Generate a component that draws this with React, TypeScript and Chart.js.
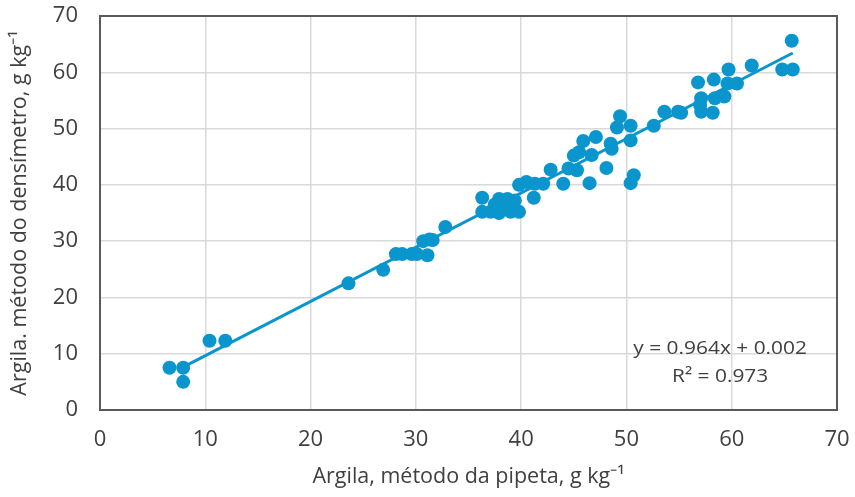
import React, { useEffect, useRef } from "react";
import { Chart, registerables } from "chart.js";

Chart.register(...registerables);

// Argila, método da pipeta (g kg-1)
const pipetaX = [
  6.6, 7.9, 7.9, 10.4, 11.9, 23.6, 26.9, 28.1, 28.7, 29.6,
  30.1, 31.1, 30.7, 31.3, 31.6, 32.8, 36.3, 36.3, 37.1, 37.9,
  37.9, 38.7, 39.0, 39.8, 39.4, 39.8, 40.5, 41.2, 41.3, 42.1,
  42.8, 44.0, 44.5, 45.0, 45.3, 45.9, 46.5, 46.7, 47.1, 48.1,
  48.5, 48.6, 49.1, 49.4, 50.4, 50.4, 50.4, 50.7, 52.6, 53.6,
  54.9, 55.2, 56.8, 57.1, 57.1, 58.3, 58.2, 58.4, 59.3, 59.7,
  59.6, 60.5, 61.9, 64.8, 65.7, 65.8, 45.5, 37.5, 38.5, 57.0,
];
// Argila, método do densímetro (g kg-1)
const densimetroY = [
  7.5, 7.5, 5.0, 12.3, 12.3, 22.5, 24.9, 27.7, 27.7, 27.7,
  27.7, 27.5, 30.0, 30.3, 30.2, 32.5, 37.7, 35.2, 35.2, 37.5,
  35.0, 37.5, 35.2, 35.2, 37.2, 40.0, 40.5, 37.7, 40.2, 40.2,
  42.7, 40.2, 42.9, 45.2, 42.6, 47.8, 40.3, 45.3, 48.5, 43.0,
  47.3, 46.4, 50.2, 52.2, 50.5, 47.9, 40.3, 41.7, 50.5, 53.0,
  53.0, 52.8, 58.2, 55.4, 53.0, 58.7, 52.8, 55.4, 55.7, 60.5,
  58.0, 58.0, 61.2, 60.5, 65.6, 60.5, 45.8, 36.5, 36.3, 54.2,
];

// Linear trendline end points
const trendX = [7.8, 65.8];
const trendY = [7.52, 63.43];

const axisMin = 0;
const axisMax = 70;
const axisStep = 10;

const xTitle = "Argila, método da pipeta, g kg⁻¹";
const yTitle = "Argila. método do densímetro, g kg⁻¹";
const equationText = "y = 0.964x + 0.002";
const r2Text = "R² = 0.973";

const BLUE = "#0a96cd";
const TEXT = "#404040";
const FONT = "'Open Sans', sans-serif";

export default function App() {
  const canvasRef = useRef<HTMLCanvasElement | null>(null);

  useEffect(() => {
    const canvas = canvasRef.current;
    if (!canvas) return;

    const framePlugin = {
      id: "frameAndEquation",
      afterDraw(chart: any) {
        const { ctx, chartArea } = chart;
        ctx.save();
        ctx.strokeStyle = "#595959";
        ctx.lineWidth = 2;
        ctx.strokeRect(
          chartArea.left,
          chartArea.top,
          chartArea.right - chartArea.left,
          chartArea.bottom - chartArea.top
        );
        const xs = chart.scales.x;
        const ys = chart.scales.y;
        ctx.fillStyle = TEXT;
        ctx.textAlign = "center";
        ctx.textBaseline = "middle";
        ctx.font = `19px ${FONT}`;
        const cx = xs.getPixelForValue(58.9);
        ctx.save();
        ctx.translate(cx, ys.getPixelForValue(10.9));
        ctx.scale(1.1, 1);
        ctx.fillText(equationText, 0, 0);
        ctx.restore();
        ctx.save();
        ctx.translate(cx, ys.getPixelForValue(5.9));
        ctx.scale(1.1, 1);
        ctx.fillText(r2Text, 0, 0);
        ctx.restore();
        ctx.restore();
      },
    };

    const chart = new Chart(canvas, {
      type: "scatter",
      data: {
        datasets: [
          {
            type: "line",
            label: "Linear",
            data: trendX.map((x, i) => ({ x, y: trendY[i] })),
            borderColor: BLUE,
            borderWidth: 3,
            pointRadius: 0,
            fill: false,
            order: 0,
          } as any,
          {
            label: "Argila",
            data: pipetaX.map((x, i) => ({ x, y: densimetroY[i] })),
            backgroundColor: BLUE,
            borderColor: BLUE,
            borderWidth: 0,
            pointRadius: 7,
            order: 1,
          },
        ],
      },
      options: {
        responsive: false,
        animation: false,
        layout: { padding: { left: 0, top: 16, right: 18, bottom: 0 } },
        plugins: {
          legend: { display: false },
          tooltip: { enabled: false },
        },
        scales: {
          x: {
            type: "linear",
            min: axisMin,
            max: axisMax,
            ticks: {
              stepSize: axisStep,
              color: TEXT,
              font: { family: FONT, size: 22 },
              padding: 17,
              maxRotation: 0,
            },
            grid: { color: "#d9d9d9", lineWidth: 1.5, drawTicks: false },
            border: { display: false },
            title: {
              display: true,
              text: xTitle,
              color: TEXT,
              font: { family: FONT, size: 21.5 },
              padding: { top: 0, bottom: 7 },
            },
            afterFit(scale: any) {
              scale.height = 87;
              scale.paddingLeft = 0;
              scale.paddingRight = 0;
            },
          },
          y: {
            type: "linear",
            min: axisMin,
            max: axisMax,
            ticks: {
              stepSize: axisStep,
              color: TEXT,
              font: { family: FONT, size: 22 },
              padding: 22,
            },
            grid: { color: "#d9d9d9", lineWidth: 1.5, drawTicks: false },
            border: { display: false },
            title: {
              display: true,
              text: yTitle,
              color: TEXT,
              font: { family: FONT, size: 21.5 },
              padding: { top: 7, bottom: 0 },
            },
            afterFit(scale: any) {
              scale.width = 100;
              scale.paddingTop = 0;
              scale.paddingBottom = 0;
            },
          },
        },
      },
      plugins: [framePlugin],
    });

    return () => {
      chart.destroy();
    };
  }, []);

  return (
    <div style={{ position: "absolute", left: 0, top: 0, width: 855, height: 497, background: "#fff" }}>
      <canvas ref={canvasRef} width={855} height={497} style={{ display: "block" }} />
    </div>
  );
}
